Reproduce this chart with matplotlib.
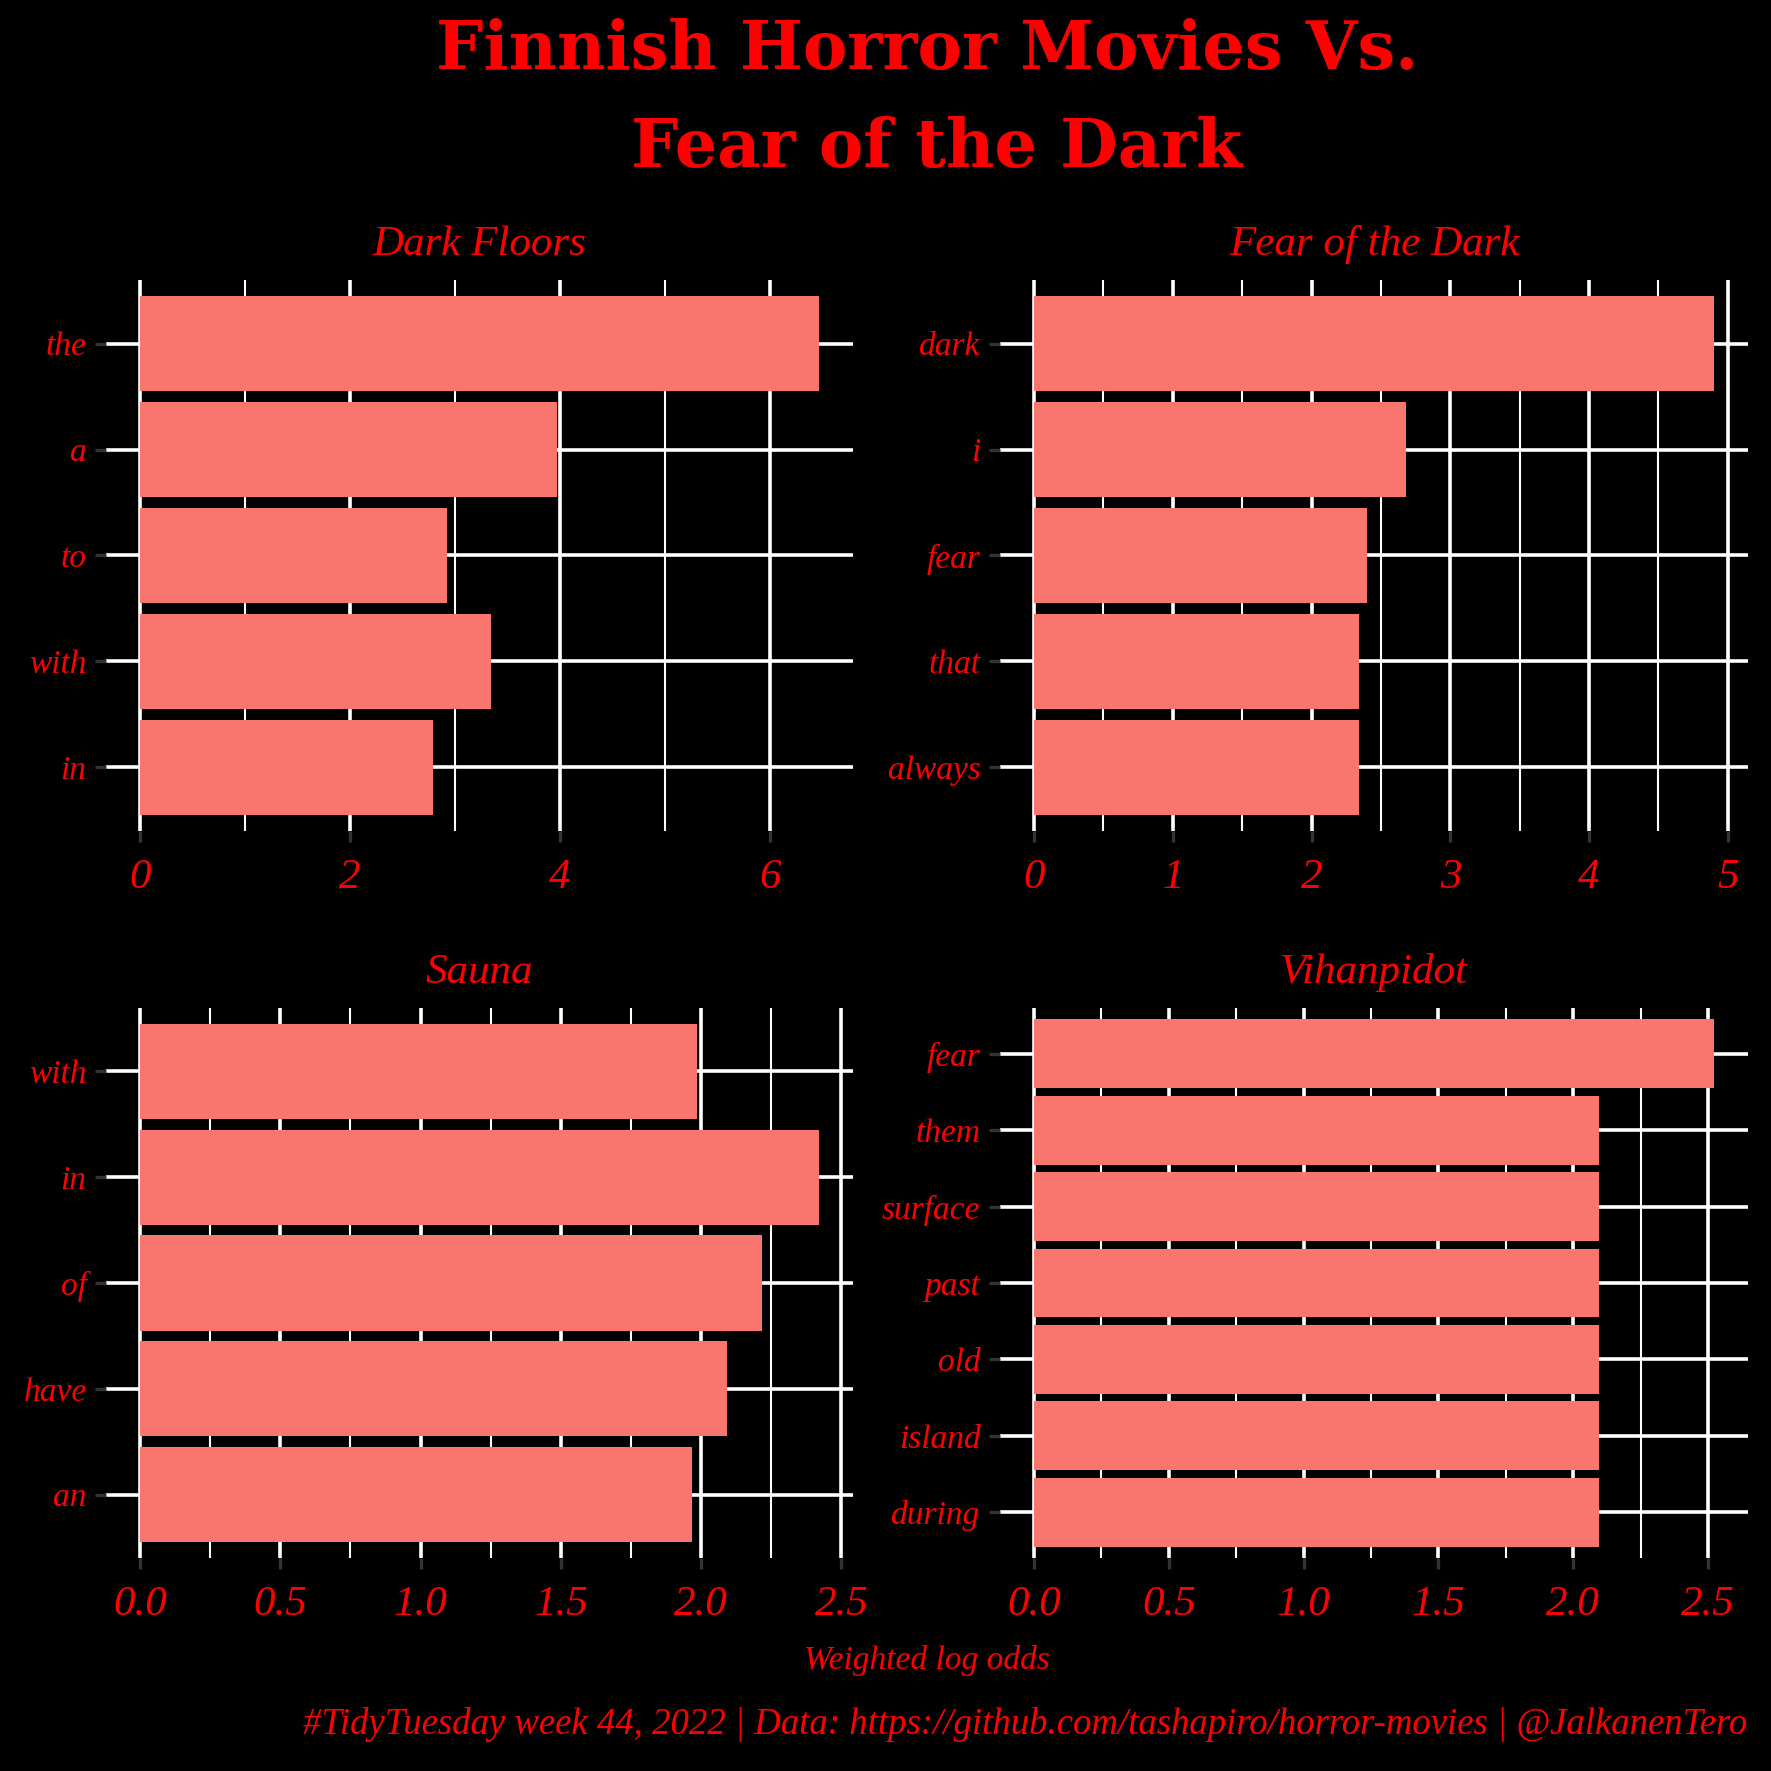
import matplotlib
matplotlib.use("Agg")
import matplotlib.pyplot as plt
import numpy as np
from matplotlib.ticker import MultipleLocator

# ---- data (top-to-bottom order as shown) ----
panel_titles = ["Dark Floors", "Fear of the Dark", "Sauna", "Vihanpidot"]

dark_floors_words = ["the", "a", "to", "with", "in"]
dark_floors_vals = [6.47, 3.97, 2.93, 3.34, 2.79]

fear_dark_words = ["dark", "i", "fear", "that", "always"]
fear_dark_vals = [4.90, 2.68, 2.40, 2.34, 2.34]

sauna_words = ["with", "in", "of", "have", "an"]
sauna_vals = [1.985, 2.42, 2.218, 2.093, 1.969]

vihan_words = ["fear", "them", "surface", "past", "old", "island", "during"]
vihan_vals = [2.522, 2.096, 2.096, 2.096, 2.096, 2.096, 2.096]

major_steps = [2, 1, 0.5, 0.5]
tick_fmt = ["{:.0f}", "{:.0f}", "{:.1f}", "{:.1f}"]

title_line1 = "Finnish Horror Movies Vs."
title_line2 = "Fear of the Dark"
xlabel_text = "Weighted log odds"
caption_text = ("#TidyTuesday week 44, 2022 | Data: https://github.com/tashapiro/horror-movies"
                " | @JalkanenTero")

words_list = [dark_floors_words, fear_dark_words, sauna_words, vihan_words]
vals_list = [dark_floors_vals, fear_dark_vals, sauna_vals, vihan_vals]

# ---- style ----
BG = "black"
BAR = "#F8766D"
RED = "#FF0000"
SCRIPT = ["Liberation Serif", "DejaVu Serif"]

W = 1771
fig = plt.figure(figsize=(17.71, 17.71), dpi=100, facecolor=BG)

# panel rectangles in pixel coords (left, top, right, bottom)
rects = [(106, 280, 853, 831), (1000, 280, 1748, 831),
         (106, 1008, 853, 1558), (1000, 1008, 1748, 1558)]

for i, (l, t, r, b) in enumerate(rects):
    ax = fig.add_axes([l / W, 1 - b / W, (r - l) / W, (b - t) / W])
    ax.set_facecolor(BG)
    words = words_list[i]
    vals = np.array(vals_list[i])
    n = len(words)
    ypos = np.arange(n, 0, -1)
    vmax = vals.max()
    ax.set_xlim(-0.05 * vmax, 1.05 * vmax)
    ax.set_ylim(0.4, n + 0.6)
    step = major_steps[i]
    ax.xaxis.set_major_locator(MultipleLocator(step))
    ax.xaxis.set_minor_locator(MultipleLocator(step / 2))
    ax.set_yticks(ypos)
    ax.set_yticklabels(words)
    ax.grid(which="major", axis="both", color="white", linewidth=2.6, zorder=0)
    ax.grid(which="minor", axis="x", color="white", linewidth=1.5, zorder=0)
    ax.set_axisbelow(True)
    ax.barh(ypos, vals, height=0.9, color=BAR, zorder=2)
    for s in ax.spines.values():
        s.set_visible(False)
    ax.tick_params(axis="both", which="major", length=8, width=2.4, color="#333333",
                   labelcolor=RED, pad=12)
    ax.tick_params(axis="x", which="minor", length=0)
    ax.tick_params(axis="y", labelsize=24, pad=6)
    ax.tick_params(axis="x", labelsize=31)
    ticks = [x for x in ax.get_xticks() if -1e-9 <= x <= 1.05 * vmax]
    ax.set_xticks(ticks)
    ax.set_xticklabels([tick_fmt[i].format(x) for x in ticks])
    ax.set_xlim(-0.05 * vmax, 1.05 * vmax)
    for lab in ax.get_xticklabels() + ax.get_yticklabels():
        lab.set_family(SCRIPT)
        lab.set_style("italic")
    ax.set_title(panel_titles[i], color=RED, fontsize=31, family=SCRIPT,
                 style="italic", pad=18)

# title (two lines)
fig.text(927 / W, 1 - 51 / W, title_line1, ha="center", va="center",
         color=RED, fontsize=48, fontweight="bold", family=["DejaVu Serif"])
fig.text(937 / W, 1 - 149 / W, title_line2, ha="center", va="center",
         color=RED, fontsize=48, fontweight="bold", family=["DejaVu Serif"])

fig.text(927 / W, 1 - 1660 / W, xlabel_text, ha="center", va="center",
         color=RED, fontsize=24, family=SCRIPT, style="italic")
fig.text(1747 / W, 1 - 1725 / W, caption_text, ha="right", va="center",
         color=RED, fontsize=26.5, family=SCRIPT, style="italic")

fig.savefig("out.png", dpi=100, facecolor=BG)
